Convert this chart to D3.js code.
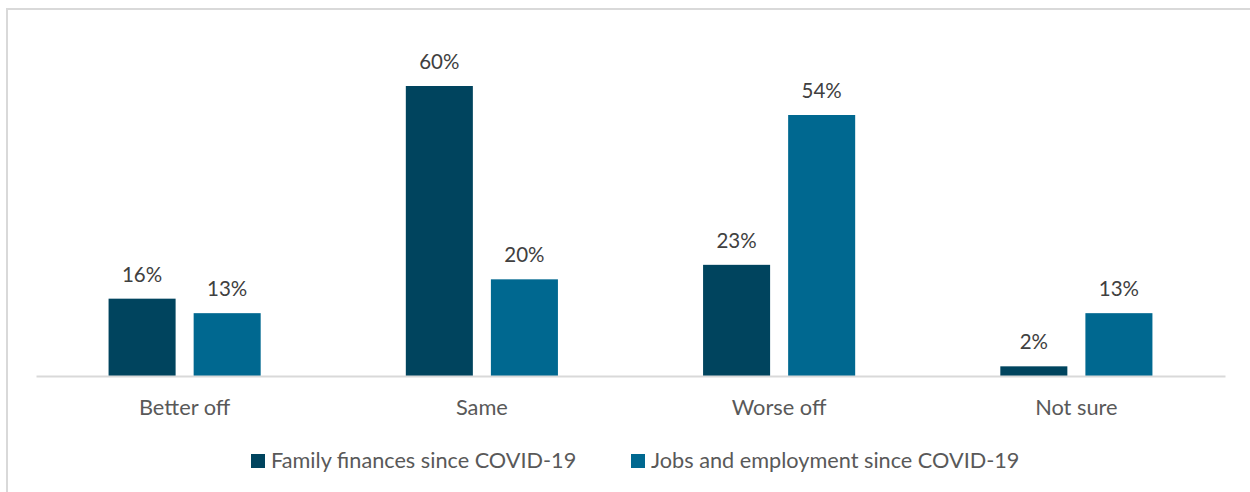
<!DOCTYPE html>
<html>
<head>
<meta charset="utf-8">
<script src="https://cdn.jsdelivr.net/npm/d3@7"></script>
<style>
  html, body { margin: 0; padding: 0; background: #fff; }
  svg { display: block; }
  text { font-family: Lato, "Open Sans", sans-serif; }
</style>
</head>
<body>
<svg id="chart" width="1250" height="492"></svg>
<script>
const categories = ["Better off", "Same", "Worse off", "Not sure"];
const seriesNames = ["Family finances since COVID-19", "Jobs and employment since COVID-19"];
const familyValues = [16, 60, 23, 2];
const jobsValues = [13, 20, 54, 13];
const colors = ["#00445e", "#006890"];

const svg = d3.select("#chart");

// outer border
svg.append("rect")
  .attr("x", 7).attr("y", 9)
  .attr("width", 1260).attr("height", 500)
  .attr("fill", "none").attr("stroke", "#d9d9d9").attr("stroke-width", 2);

const x0 = d3.scaleBand().domain(categories).range([36, 1225]).paddingInner(0).paddingOuter(0);
const x1 = d3.scaleBand().domain([0, 1]).range([0, x0.bandwidth()]).paddingInner(0.212).paddingOuter(0.853);
const y = d3.scaleLinear().domain([0, 60]).range([376, 86]);

const data = categories.map((c, i) => ({ cat: c, vals: [familyValues[i], jobsValues[i]] }));

const g = svg.append("g");
const groups = g.selectAll("g.grp").data(data).enter().append("g")
  .attr("transform", d => `translate(${x0(d.cat)},0)`);

groups.selectAll("rect").data(d => d.vals.map((v, k) => ({ v, k }))).enter().append("rect")
  .attr("x", d => x1(d.k))
  .attr("y", d => y(d.v))
  .attr("width", x1.bandwidth())
  .attr("height", d => y(0) - y(d.v))
  .attr("fill", d => colors[d.k]);

groups.selectAll("text.val").data(d => d.vals.map((v, k) => ({ v, k }))).enter().append("text")
  .attr("class", "val")
  .attr("x", d => x1(d.k) + x1.bandwidth() / 2)
  .attr("y", d => y(d.v) - 17)
  .attr("text-anchor", "middle")
  .attr("font-size", 20.5)
  .attr("fill", "#404040")
  .text(d => d.v + "%");

// baseline axis
const axis = d3.axisBottom(x0).tickSize(0).tickPadding(24);
const ax = svg.append("g").attr("transform", `translate(0,${y(0)})`).call(axis);
ax.select(".domain").attr("stroke", "#d9d9d9").attr("stroke-width", 2);
ax.selectAll("text").attr("font-size", 21.8).attr("fill", "#595959")
  .attr("font-family", "Lato, 'Open Sans', sans-serif");

// legend
const legendX = [251, 631];
const leg = svg.append("g");
seriesNames.forEach((s, i) => {
  leg.append("rect").attr("x", legendX[i]).attr("y", 454).attr("width", 14).attr("height", 14).attr("fill", colors[i]);
  leg.append("text").attr("x", legendX[i] + 20).attr("y", 468)
    .attr("font-size", 21.7).attr("fill", "#595959").text(s);
});
</script>
</body>
</html>
